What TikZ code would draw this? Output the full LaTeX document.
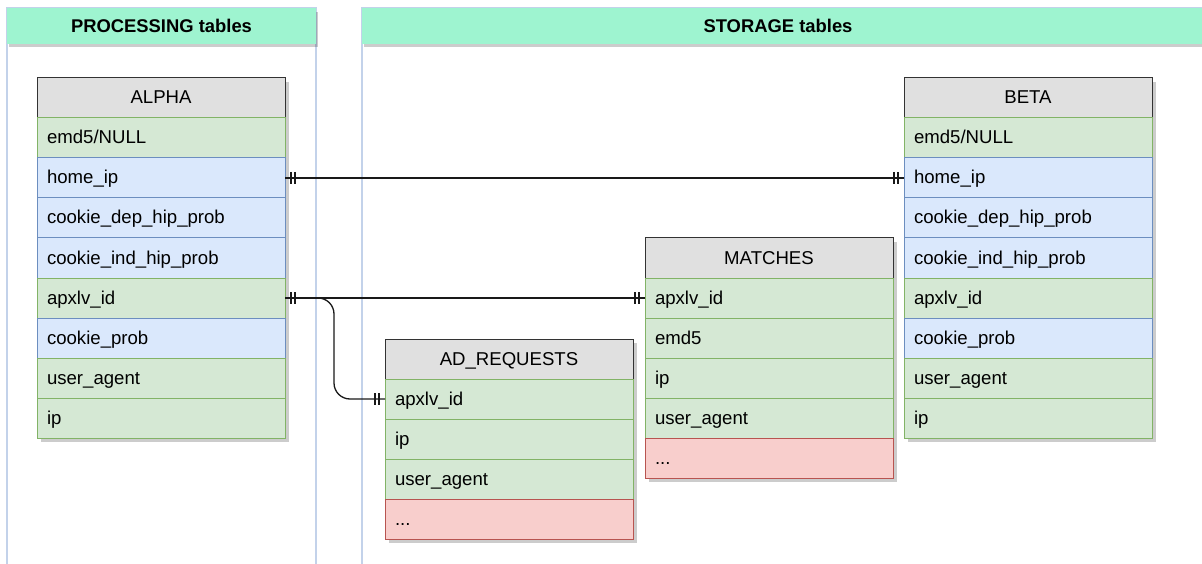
\documentclass[tikz,border=0pt]{standalone}
\usepackage{fontspec}
\setmainfont{Liberation Sans}
\definecolor{hdr}{HTML}{E0E0E0}
\definecolor{gf}{HTML}{D5E8D4}\definecolor{gl}{HTML}{82B366}
\definecolor{bf}{HTML}{DAE8FC}\definecolor{bl}{HTML}{6C8EBF}
\definecolor{rf}{HTML}{F8CECC}\definecolor{rl}{HTML}{B85450}
\definecolor{lanehd}{HTML}{9EF4D0}
\definecolor{laneln}{HTML}{C3D2EA}
\newcommand\threedots{...}
\tikzset{
  cell/.style={anchor=north west, minimum width=248pt, minimum height=40pt,
    text width=228pt, inner xsep=10pt, inner ysep=0pt, align=left,
    text height=12pt, text depth=0pt,
    font=\fontsize{18.6}{20}\selectfont, line width=1pt, outer sep=0pt},
  thead/.style={cell, align=center, fill=hdr, draw=black!80},
  tshadow/.style={fill=black, opacity=0.2},
  lanebox/.style={draw=laneln, line width=1.2pt},
  lanehead/.style={fill=lanehd},
  lanetitle/.style={font=\bfseries\fontsize{18.4}{20}\selectfont},
  rel/.style={line width=1.3pt, draw=black!90},
}
\newcommand\ertable[6]{%
  \fill[tshadow] ({#2+4},{#3+4}) rectangle ({#2+252},{#3+40*(#5+1)+4});
  \node[thead] (#1) at (#2,#3) {#4};
  \foreach [count=\i] \cc/\rt in {#6}{
    \node[cell, fill=\cc f, draw=\cc l] (#1\i) at (#2,{#3+40*\i}) {\rt};
  }
}
\begin{document}
\begin{tikzpicture}[x=1pt,y=-1pt]
\useasboundingbox (0,0) rectangle (1202,564);
% lanes
\fill[white] (0,0) rectangle (1202,564);
\draw[lanebox] (7,8) rectangle (316,570);
\draw[lanebox] (362,8) rectangle (1210,570);
\fill[tshadow] (9,12) rectangle (318,47);
\fill[tshadow] (364,12) rectangle (1210,47);
\fill[lanehead] (7,8) rectangle (316,44);
\fill[lanehead] (362,8) rectangle (1210,44);
\node[lanetitle] (proc) at (161.5,26) {PROCESSING tables};
\node[lanetitle] (stor) at (778,26) {STORAGE tables};
% tables
\ertable{alpha}{37}{78}{ALPHA}{8}{g/{emd5/NULL}, b/home\_ip, b/cookie\_dep\_hip\_prob, b/cookie\_ind\_hip\_prob, g/apxlv\_id, b/cookie\_prob, g/user\_agent, g/ip}
\ertable{beta}{904}{78}{BETA}{8}{g/{emd5/NULL}, b/home\_ip, b/cookie\_dep\_hip\_prob, b/cookie\_ind\_hip\_prob, g/apxlv\_id, b/cookie\_prob, g/user\_agent, g/ip}
\ertable{matches}{645}{238}{MATCHES}{5}{g/apxlv\_id, g/emd5, g/ip, g/user\_agent, r/\threedots}
\ertable{adreq}{385}{339}{AD\_REQUESTS}{4}{g/apxlv\_id, g/ip, g/user\_agent, r/\threedots}
% relations
\draw[rel] (alpha2.east) -- (beta2.west);
\draw[rel] (alpha5.east) -- (matches1.west);
\draw[rel, rounded corners=16pt] (alpha5.east) -- ++(49,0) |- (adreq1.west);
\foreach \p/\s in {alpha2.east/1, beta2.west/-1, alpha5.east/1, matches1.west/-1, adreq1.west/-1}{
  \draw[rel] ([xshift=\s*6pt]\p) ++(0,-6) -- ++(0,12);
  \draw[rel] ([xshift=\s*10pt]\p) ++(0,-6) -- ++(0,12);
}
\end{tikzpicture}
\end{document}
